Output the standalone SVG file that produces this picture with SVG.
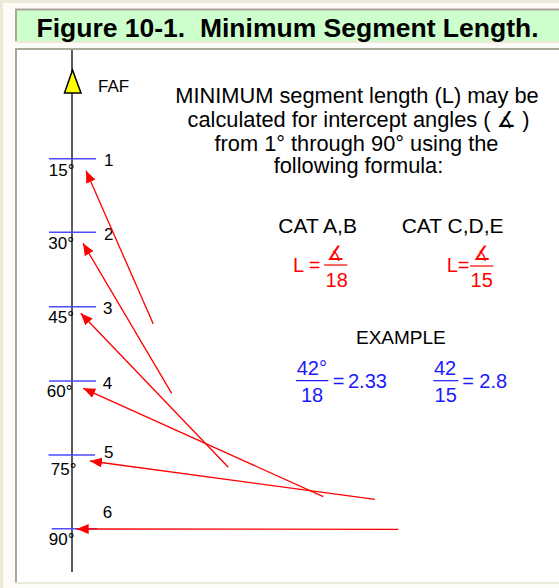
<svg xmlns="http://www.w3.org/2000/svg" width="559" height="588" viewBox="0 0 559 588">
<style>
text{font-family:"Liberation Sans","DejaVu Sans",Arial,sans-serif;}
.title{font-size:26.5px;font-weight:bold;fill:#000;white-space:pre;}
.lbl{font-size:17px;fill:#000;}
.para{font-size:21.8px;fill:#000;text-anchor:middle;}
.cat{font-size:21px;fill:#000;}
.red{font-size:20px;fill:#ff0000;}
.blue{font-size:20px;fill:#1a1aff;}
.tick{stroke:#4d4dff;stroke-width:1.4;}
.arr{stroke:#ff0000;stroke-width:1.3;fill:none;marker-end:url(#ah);}
.frac{stroke-width:1.2;}
</style>
<defs>
<marker id="ah" markerUnits="userSpaceOnUse" markerWidth="13" markerHeight="10" refX="12" refY="5" orient="auto">
<path d="M0,0 L12,5 L0,10 z" fill="#ff0000"/>
</marker>
</defs>
<!-- background / frame -->
<rect x="0" y="0" width="559" height="588" fill="#fcfbf7"/>
<rect x="0" y="0" width="3" height="588" fill="#ece9d8"/>
<rect x="0" y="0" width="559" height="3" fill="#ece9d8"/>
<rect x="16" y="10" width="543" height="32" fill="#ccffcc"/>
<line x1="15" y1="9.5" x2="559" y2="9.5" stroke="#aca899" stroke-width="2"/>
<line x1="16" y1="9" x2="16" y2="42" stroke="#aca899" stroke-width="2"/>
<line x1="15" y1="42" x2="559" y2="42" stroke="#ece9d8" stroke-width="2"/>
<rect x="16" y="49" width="543" height="534" fill="#ffffff"/>
<line x1="15" y1="49" x2="559" y2="49" stroke="#aca899" stroke-width="2"/>
<line x1="16" y1="48" x2="16" y2="582" stroke="#aca899" stroke-width="2"/>
<line x1="15" y1="583" x2="559" y2="583" stroke="#ece9d8" stroke-width="2"/>
<g id="title"><text class="title" x="287.5" y="37" text-anchor="middle">Figure 10-1.  Minimum Segment Length.</text></g>
<g id="axis">
<line x1="72" y1="50" x2="72" y2="572" stroke="#333333" stroke-width="1.6"/>
</g>
<g id="faf">
<polygon points="72.5,70 64.5,93 81,93" fill="#ffff00" stroke="#000" stroke-width="1.5" stroke-linejoin="miter"/>
<text class="lbl" x="98" y="92">FAF</text>
</g>
<g id="tick1"><line class="tick" x1="49" y1="158.7" x2="96" y2="158.7"/><text class="lbl" x="104" y="166">1</text><text class="lbl" x="74.5" y="175.5" text-anchor="end">15°</text></g>
<g id="tick2"><line class="tick" x1="49" y1="232.3" x2="96" y2="232.3"/><text class="lbl" x="104" y="240">2</text><text class="lbl" x="74" y="249.3" text-anchor="end">30°</text></g>
<g id="tick3"><line class="tick" x1="49" y1="306.7" x2="96" y2="306.7"/><text class="lbl" x="103" y="314">3</text><text class="lbl" x="74" y="322.7" text-anchor="end">45°</text></g>
<g id="tick4"><line class="tick" x1="49" y1="381" x2="96" y2="381"/><text class="lbl" x="102.7" y="389">4</text><text class="lbl" x="72.5" y="396.7" text-anchor="end">60°</text></g>
<g id="tick5"><line class="tick" x1="48.5" y1="455" x2="95" y2="455"/><text class="lbl" x="104" y="458">5</text><text class="lbl" x="76.5" y="475" text-anchor="end">75°</text></g>
<g id="tick6"><line class="tick" x1="51.7" y1="528.7" x2="97" y2="528.7" stroke-width="2"/><text class="lbl" x="102.7" y="518.3">6</text><text class="lbl" x="74.5" y="545" text-anchor="end">90°</text></g>
<g id="connectors">
<line class="arr" x1="153.3" y1="324" x2="86" y2="170.7"/>
<line class="arr" x1="171.7" y1="393.3" x2="83" y2="243.3"/>
<line class="arr" x1="228.3" y1="467.3" x2="80.7" y2="313.3"/>
<line class="arr" x1="323.3" y1="496.7" x2="83.3" y2="388.3"/>
<line class="arr" x1="375" y1="499.3" x2="90" y2="461"/>
<line class="arr" x1="398.3" y1="529.3" x2="76.7" y2="529"/>
</g>
<g id="description">
<text class="para" x="357" y="103.3">MINIMUM segment length (L) may be</text>
<text class="para" x="358.5" y="126.7">calculated for intercept angles ( ∡ )</text>
<text class="para" x="356.5" y="150.7">from 1° through 90° using the</text>
<text class="para" x="358.5" y="173.3">following formula:</text>
</g>
<g id="catAB">
<text class="cat" x="278.3" y="233">CAT A,B</text>
<text class="red" x="293" y="272">L</text>
<text class="red" x="314.5" y="272" text-anchor="middle">=</text>
<line class="frac" x1="324" y1="265" x2="347.3" y2="265" stroke="#ff0000"/>
<text class="red" x="335.5" y="260" text-anchor="middle" font-size="15">∡</text>
<text class="red" x="336.7" y="287.3" text-anchor="middle">18</text>
</g>
<g id="catCDE">
<text class="cat" x="401.7" y="233">CAT C,D,E</text>
<text class="red" x="446.7" y="272">L=</text>
<line class="frac" x1="470" y1="266" x2="493.3" y2="266" stroke="#ff0000"/>
<text class="red" x="482" y="260" text-anchor="middle" font-size="15">∡</text>
<text class="red" x="481.7" y="287.3" text-anchor="middle">15</text>
</g>
<g id="example">
<text x="356" y="344" font-size="19" fill="#000">EXAMPLE</text>
<text class="blue" x="296.7" y="375">42°</text>
<line class="frac" x1="296" y1="380.7" x2="328.3" y2="380.7" stroke="#1a1aff"/>
<text class="blue" x="312" y="402" text-anchor="middle">18</text>
<text class="blue" x="338.5" y="388" text-anchor="middle">=</text>
<text class="blue" x="348" y="388">2.33</text>
<text class="blue" x="434" y="375">42</text>
<line class="frac" x1="433.3" y1="380.7" x2="458.3" y2="380.7" stroke="#1a1aff"/>
<text class="blue" x="445.7" y="402" text-anchor="middle">15</text>
<text class="blue" x="468" y="388" text-anchor="middle">=</text>
<text class="blue" x="479.3" y="388">2.8</text>
</g>
</svg>
